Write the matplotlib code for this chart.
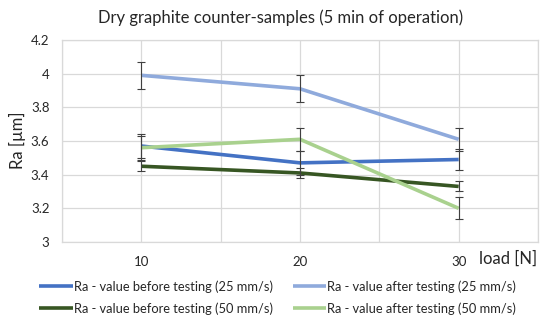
import matplotlib
matplotlib.use("Agg")
import matplotlib.pyplot as plt
import numpy as np

plt.rcParams['font.family'] = ['Lato', 'DejaVu Sans']

loads = ["10", "20", "30"]
before_25 = [3.57, 3.47, 3.49]
after_25 = [3.99, 3.91, 3.61]
before_50 = [3.45, 3.41, 3.33]
after_50 = [3.56, 3.61, 3.20]
err_before_25 = [0.07, 0.07, 0.065]
err_after_25 = [0.08, 0.08, 0.07]
err_before_50 = [0.03, 0.03, 0.03]
err_after_50 = [0.07, 0.07, 0.065]

labels = ["Ra - value before testing (25 mm/s)",
          "Ra - value after testing (25 mm/s)",
          "Ra - value before testing (50 mm/s)",
          "Ra - value after testing (50 mm/s)"]
colors = ["#4472C4", "#8FAADC", "#375623", "#A9D18E"]

fig = plt.figure(figsize=(5.5, 3.25), dpi=100)
ax = fig.add_axes([0.1127, 0.2554, 0.8655, 0.6216])

x = np.arange(1, len(loads) + 1)
series = [(before_25, err_before_25), (after_25, err_after_25),
          (before_50, err_before_50), (after_50, err_after_50)]
handles = []
for (vals, errs), lab, c in zip(series, labels, colors):
    h, = ax.plot(x, vals, color=c, lw=2.6, label=lab, zorder=3,
                 solid_capstyle='butt')
    ax.errorbar(x, vals, yerr=errs, fmt='none', ecolor='#404040',
                elinewidth=0.8, capsize=3, capthick=0.8, zorder=4)
    handles.append(h)

ax.set_xlim(0.5, 3.5)
ax.set_ylim(3.0, 4.2)
ax.set_yticks(np.arange(3.0, 4.21, 0.2))
ax.set_yticklabels(["3", "3.2", "3.4", "3.6", "3.8", "4", "4.2"])
ax.set_xticks(x)
ax.set_xticklabels(loads)
ax.xaxis.remove_overlapping_locs = False
ax.set_xticks(np.arange(0.5, 3.6, 0.5), minor=True)
ax.grid(True, which='minor', axis='x', color='#D9D9D9', lw=0.9)
ax.grid(True, which='major', axis='y', color='#D9D9D9', lw=0.9)
ax.set_axisbelow(True)
ax.tick_params(axis='both', which='both', length=0, labelsize=9.5,
               labelcolor='#262626')
ax.tick_params(axis='x', pad=10)
ax.tick_params(axis='y', pad=9)
for s in ax.spines.values():
    s.set_color('#D9D9D9')
    s.set_linewidth(0.9)

fig.text(17 / 550, 1 - 140 / 325, "Ra [µm]", rotation=90, ha='center',
         va='center', fontsize=12, color='#262626')
fig.text(0.51, 0.945, "Dry graphite counter-samples (5 min of operation)",
         ha='center', va='center', fontsize=12, color='#262626')
fig.text(0.977, 0.205, "load [N]", ha='right', va='center', fontsize=12,
         color='#262626')

order = [0, 2, 1, 3]
leg = fig.legend(handles=[handles[i] for i in order],
                 labels=[labels[i] for i in order], ncol=2,
                 loc='center', bbox_to_anchor=(0.505, 0.085),
                 frameon=False, fontsize=9.3, handlelength=2.6,
                 handletextpad=0.1, columnspacing=1.5, labelspacing=0.75)
for t in leg.get_texts():
    t.set_color('#262626')

fig.savefig("out.png", dpi=100)
